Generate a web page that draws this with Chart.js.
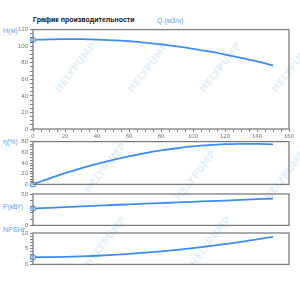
<!DOCTYPE html>
<html>
<head>
<meta charset="utf-8">
<script src="https://cdn.jsdelivr.net/npm/chart.js@4.4.1/dist/chart.umd.min.js"></script>
<style>
  body { margin: 0; background: #fff; }
  #wrap { position: relative; width: 300px; height: 288px; overflow: hidden; font-family: "Liberation Sans", Arial, sans-serif; }
  #wrap canvas { position: absolute; left: 0; }
  .lbl { position: absolute; color: #5a9fe8; font-size: 7px; white-space: nowrap; line-height: 1; }
  .title { position: absolute; left: 33px; top: 16px; font-size: 7px; font-weight: bold; color: #111; white-space: nowrap; line-height: 1; }
  .wm { position: absolute; color: #e4eff9; font: bold 10px "DejaVu Sans", sans-serif; transform: rotate(-52deg); white-space: nowrap; }
</style>
</head>
<body>
<div id="wrap">
  <div class="wm" style="left:45px;top:62px">HELYPUMP</div>
  <div class="wm" style="left:118px;top:62px">HELYPUMP</div>
  <div class="wm" style="left:190px;top:62px">HELYPUMP</div>
  <div class="wm" style="left:262px;top:62px">HELYPUMP</div>
  <div class="wm" style="left:75px;top:162px">HELYPUMP</div>
  <div class="wm" style="left:165px;top:170px">HELYPUMP</div>
  <div class="wm" style="left:255px;top:170px">HELYPUMP</div>
  <div class="wm" style="left:75px;top:236px">HELYPUMP</div>
  <div class="wm" style="left:180px;top:236px">HELYPUMP</div>

  <div class="title">График производительности</div>
  <div class="lbl" style="left:157px;top:17px">Q (м3/ч)</div>
  <div class="lbl" style="left:3px;top:27px">H(м)</div>
  <div class="lbl" style="left:3px;top:138px">η(%)</div>
  <div class="lbl" style="left:3px;top:203px">P(кВт)</div>
  <div class="lbl" style="left:3px;top:226px">NPSHr</div>

  <canvas id="headChart" width="300" height="122" style="top:24px"></canvas>
  <canvas id="effChart" width="300" height="54" style="top:136px"></canvas>
  <canvas id="powerChart" width="300" height="43" style="top:188px"></canvas>
  <canvas id="npshChart" width="300" height="43" style="top:227px"></canvas>
</div>
<script>
const flow = [0, 10, 20, 30, 40, 50, 60, 70, 80, 90, 100, 110, 120, 130, 140, 150];
const head = [107.6, 108.3, 108.6, 108.5, 108.0, 107.1, 106.0, 104.2, 102.2, 99.7, 96.8, 93.6, 89.9, 85.9, 81.6, 76.8];
const efficiency = [0, 10.8, 20.9, 30.0, 38.4, 45.9, 52.5, 58.4, 63.4, 67.6, 70.9, 73.4, 75.1, 75.9, 75.9, 75.0];
const power = [26.8, 28.0, 29.2, 30.3, 31.4, 32.5, 33.6, 34.6, 35.6, 36.6, 37.6, 38.6, 39.6, 40.6, 41.7, 42.8];
const npsh = [2.3, 2.33, 2.4, 2.56, 2.76, 3.02, 3.34, 3.72, 4.15, 4.64, 5.19, 5.8, 6.46, 7.18, 7.96, 8.8];

const headTicks = [0, 20, 40, 60, 80, 100, 120];
const effTicks = [0, 20, 40, 60, 80];
const powerTicks = [0, 50];
const npshTicks = [0, 5, 10];
const flowTicks = [0, 20, 40, 60, 80, 100, 120, 140, 160];

const lineColor = "#3d8cf5";
const axisColor = "#7d7d7d";
const tickFont = { family: "Liberation Sans", size: 6 };
const tickColor = "#6f7d63";

// grey box round each plot
const frame = {
  id: "frame",
  afterDraw(chart) {
    const { ctx, chartArea: a } = chart;
    ctx.save();
    ctx.strokeStyle = axisColor;
    ctx.lineWidth = 1.3;
    ctx.strokeRect(a.left, a.top, a.right - a.left, a.bottom - a.top);
    ctx.restore();
  }
};

function series(values) {
  return flow.map((q, i) => ({ x: q, y: values[i] }));
}

function yAxis(max, step, labels) {
  return {
    min: 0,
    max: max,
    afterFit: s => { s.width = 33; },
    afterBuildTicks: s => {
      const t = [];
      for (let v = 0; v <= max + 1e-9; v += step) t.push({ value: Math.round(v * 100) / 100 });
      s.ticks = t;
    },
    ticks: {
      autoSkip: false,
      font: tickFont,
      color: tickColor,
      padding: 2,
      callback: v => labels.includes(v) ? v : ""
    },
    grid: { drawOnChartArea: false, drawTicks: true, tickLength: 3, color: axisColor },
    border: { display: false }
  };
}

function makeChart(id, values, yMax, yStep, yLabels, showX, pad) {
  const xAxis = {
    type: "linear",
    min: 0,
    max: 160,
    display: showX
  };
  if (showX) {
    Object.assign(xAxis, {
      afterFit: s => { s.height = 17; },
      afterBuildTicks: s => {
        const t = [];
        for (let v = 0; v <= 160; v += 5) t.push({ value: v });
        s.ticks = t;
      },
      ticks: {
        autoSkip: false,
        maxRotation: 0,
        font: tickFont,
        color: tickColor,
        padding: 1,
        callback: v => flowTicks.includes(v) ? v : ""
      },
      grid: { drawOnChartArea: false, drawTicks: true, tickLength: 3, color: axisColor },
      border: { display: false }
    });
  }
  return new Chart(document.getElementById(id), {
    type: "line",
    data: {
      datasets: [{
        data: series(values),
        borderColor: lineColor,
        borderWidth: 1.8,
        cubicInterpolationMode: "monotone",
        pointRadius: c => c.dataIndex === 0 ? 2.4 : 0,
        pointBackgroundColor: "#fff",
        pointBorderColor: lineColor,
        pointBorderWidth: 1.1,
        clip: false
      }]
    },
    options: {
      responsive: false,
      animation: false,
      layout: { padding: { top: pad[0], right: 11, bottom: pad[1], left: 0 } },
      plugins: { legend: { display: false }, tooltip: { enabled: false } },
      scales: {
        x: xAxis,
        y: yAxis(yMax, yStep, yLabels)
      }
    },
    plugins: [frame]
  });
}

makeChart("headChart", head, 120, 5, headTicks, true, [5, 0]);
makeChart("effChart", efficiency, 80, 5, effTicks, false, [4, 4]);
makeChart("powerChart", power, 50, 10, powerTicks, false, [6, 4]);
makeChart("npshChart", npsh, 10, 1, npshTicks, false, [6, 5]);
</script>
</body>
</html>
